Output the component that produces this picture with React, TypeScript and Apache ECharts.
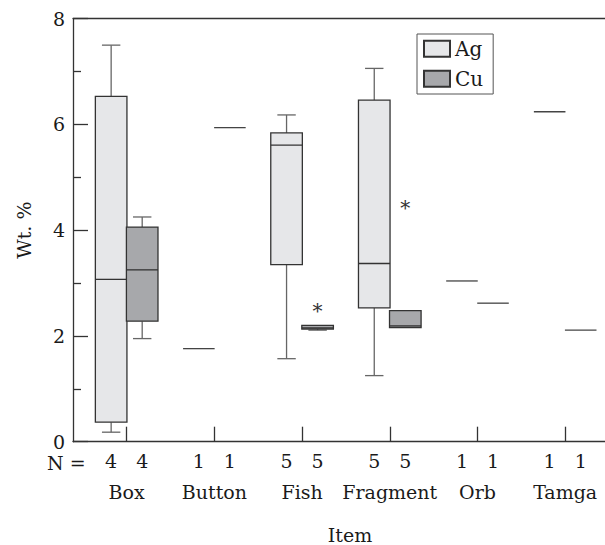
import React, { useEffect, useRef } from "react";
import * as echarts from "echarts";

const categories = ["Box", "Button", "Fish", "Fragment", "Orb", "Tamga"];
// [min, Q1, median, Q3, max]
const agStats = [
  [0.18, 0.37, 3.07, 6.53, 7.5],
  [1.76, 1.76, 1.76, 1.76, 1.76],
  [1.57, 3.35, 5.61, 5.84, 6.18],
  [1.25, 2.53, 3.37, 6.46, 7.06],
  [3.04, 3.04, 3.04, 3.04, 3.04],
  [6.24, 6.24, 6.24, 6.24, 6.24],
];
const cuStats = [
  [1.95, 2.28, 3.25, 4.06, 4.25],
  [5.94, 5.94, 5.94, 5.94, 5.94],
  [2.11, 2.13, 2.15, 2.2, 2.2],
  [2.16, 2.16, 2.19, 2.48, 2.48],
  [2.62, 2.62, 2.62, 2.62, 2.62],
  [2.11, 2.11, 2.11, 2.11, 2.11],
];
const agN = [4, 1, 5, 5, 1, 1];
const cuN = [4, 1, 5, 5, 1, 1];
// outliers: [category index, value]
const cuOutliers = [
  [2, 2.53],
  [3, 4.47],
];
const yTicks = [0, 2, 4, 6, 8];

const FONT = "DejaVu Serif";
const OFF = 0.177;
const TXT = "#1a1a1a";

export default function App() {
  const ref = useRef<HTMLDivElement>(null);
  useEffect(() => {
    if (!ref.current) return;
    const chart = echarts.init(ref.current, null, { renderer: "svg" });

    const makeRender = (fill: string) => (params: any, api: any) => {
      const x = api.value(0);
      const mn = api.value(1), q1 = api.value(2), md = api.value(3), q3 = api.value(4), mx = api.value(5);
      const half = api.size([0.18, 0])[0];
      const capHalf = api.size([0.105, 0])[0];
      const cx = api.coord([x, 0])[0];
      const Y = (v: number) => api.coord([x, v])[1];
      const boxStroke = "#333";
      const whisk = "#666";
      const children: any[] = [];
      if (q1 === q3) {
        children.push({
          type: "line",
          shape: { x1: cx - half, y1: Y(md), x2: cx + half, y2: Y(md) },
          style: { stroke: "#444", lineWidth: 1.3 },
        });
      } else {
        if (mx > q3) {
          children.push({ type: "line", shape: { x1: cx, y1: Y(q3), x2: cx, y2: Y(mx) }, style: { stroke: whisk, lineWidth: 1.3 } });
          children.push({ type: "line", shape: { x1: cx - capHalf, y1: Y(mx), x2: cx + capHalf, y2: Y(mx) }, style: { stroke: whisk, lineWidth: 1.3 } });
        }
        if (mn < q1) {
          children.push({ type: "line", shape: { x1: cx, y1: Y(q1), x2: cx, y2: Y(mn) }, style: { stroke: whisk, lineWidth: 1.3 } });
          children.push({ type: "line", shape: { x1: cx - capHalf, y1: Y(mn), x2: cx + capHalf, y2: Y(mn) }, style: { stroke: whisk, lineWidth: 1.3 } });
        }
        children.push({
          type: "rect",
          shape: { x: cx - half, y: Y(q3), width: half * 2, height: Y(q1) - Y(q3) },
          style: { fill, stroke: boxStroke, lineWidth: 1.3 },
        });
        children.push({
          type: "line",
          shape: { x1: cx - half, y1: Y(md), x2: cx + half, y2: Y(md) },
          style: { stroke: boxStroke, lineWidth: 1.3 },
        });
      }
      return { type: "group", children };
    };

    const agData = agStats.map((s, i) => [i - OFF, ...s]);
    const cuData = cuStats.map((s, i) => [i + OFF, ...s]);
    const outData = cuOutliers.map(([i, v]) => [i + OFF, v]);

    const nPos: number[] = [];
    const nLab: string[] = [];
    categories.forEach((_, i) => {
      nPos.push(i - OFF);
      nLab.push(String(agN[i]));
      nPos.push(i + OFF);
      nLab.push(String(cuN[i]));
    });

    const xMin = -0.612;
    const xMax = 5.454;

    const option: any = {
      animation: false,
      backgroundColor: "#ffffff",
      grid: {
        left: 73,
        top: 18.7,
        right: 0,
        bottom: 103.3,
        show: false,
        containLabel: false,
        outerBoundsMode: "none",
      },
      legend: {
        data: ["Ag", "Cu"],
        orient: "vertical",
        left: 417,
        top: 34,
        itemWidth: 26,
        itemHeight: 16,
        itemGap: 10,
        padding: [4.7, 10, 5.3, 6],
        borderColor: "#555",
        borderWidth: 1,
        icon: "rect",
        textStyle: { fontFamily: FONT, fontSize: 20, color: TXT, lineHeight: 20 },
        selectedMode: false,
      },
      xAxis: [
        {
          type: "value",
          min: xMin,
          max: xMax,
          position: "bottom",
          axisLine: { show: true, onZero: false, lineStyle: { color: "#333", width: 1.3 } },
          axisTick: {
            show: true,
            inside: true,
            length: 15,
            customValues: categories.map((_, i) => i),
            lineStyle: { color: "#333", width: 1.3 },
          },
          axisLabel: {
            customValues: categories.map((_, i) => i),
            formatter: (v: number) => categories[Math.round(v)] ?? "",
            margin: 41,
            fontFamily: FONT,
            fontSize: 19,
            color: TXT,
          },
          splitLine: { show: false },
          name: "Item",
          nameLocation: "middle",
          nameGap: 84,
          nameTextStyle: { fontFamily: FONT, fontSize: 19, color: TXT, padding: [0, 0, 0, 22] },
        },
        {
          type: "value",
          min: xMin,
          max: xMax,
          position: "bottom",
          axisLine: { show: false, onZero: false },
          axisTick: { show: false },
          axisLabel: {
            customValues: nPos,
            formatter: (v: number) => {
              let best = 0;
              nPos.forEach((p, k) => {
                if (Math.abs(p - v) < Math.abs(nPos[best] - v)) best = k;
              });
              return nLab[best];
            },
            margin: 9.5,
            fontFamily: FONT,
            fontSize: 19,
            color: TXT,
          },
          splitLine: { show: false },
        },
        {
          type: "value",
          min: xMin,
          max: xMax,
          position: "top",
          axisLine: { show: true, onZero: false, lineStyle: { color: "#333", width: 1.3 } },
          axisTick: { show: false },
          axisLabel: { show: false },
          splitLine: { show: false },
        },
      ],
      yAxis: {
        type: "value",
        min: yTicks[0],
        max: yTicks[yTicks.length - 1],
        interval: 2,
        axisLine: { show: true, onZero: false, lineStyle: { color: "#333", width: 1.3 } },
        axisTick: { show: true, inside: true, length: 15, lineStyle: { color: "#333", width: 1.3 } },
        minorTick: { show: true, splitNumber: 2, length: 8, lineStyle: { color: "#333", width: 1.3 } },
        axisLabel: { margin: 8, fontFamily: FONT, fontSize: 19, color: TXT },
        splitLine: { show: false },
        minorSplitLine: { show: false },
        name: "Wt. %",
        nameLocation: "middle",
        nameGap: 40,
        nameRotate: 90,
        nameTextStyle: { fontFamily: FONT, fontSize: 19, color: TXT },
      },
      graphic: [
        {
          type: "text",
          left: 47,
          top: 453,
          style: { text: "N =", font: `19px "${FONT}"`, fill: TXT },
        },
      ],
      series: [
        {
          name: "Ag",
          type: "custom",
          xAxisIndex: 0,
          renderItem: makeRender("#e6e7e9"),
          itemStyle: { color: "#e6e7e9", borderColor: "#333", borderWidth: 1 },
          data: agData,
          encode: { x: 0, y: [1, 2, 3, 4, 5] },
          silent: true,
        },
        {
          name: "Cu",
          type: "custom",
          xAxisIndex: 0,
          renderItem: makeRender("#a7a8ab"),
          itemStyle: { color: "#a7a8ab", borderColor: "#333", borderWidth: 1 },
          data: cuData,
          encode: { x: 0, y: [1, 2, 3, 4, 5] },
          silent: true,
        },
        {
          name: "outliers",
          type: "custom",
          xAxisIndex: 0,
          renderItem: (params: any, api: any) => {
            const p = api.coord([api.value(0), api.value(1)]);
            return {
              type: "text",
              x: p[0],
              y: p[1] + 3,
              style: {
                text: "*",
                font: `20px "${FONT}"`,
                fill: "#333",
                align: "center",
                verticalAlign: "middle",
              },
            };
          },
          data: outData,
          encode: { x: 0, y: 1 },
          silent: true,
        },
      ],
    };
    chart.setOption(option);
    return () => chart.dispose();
  }, []);
  return (
    <div
      ref={ref}
      style={{ position: "fixed", left: 0, top: 0, width: 605, height: 545, background: "#fff" }}
    />
  );
}
